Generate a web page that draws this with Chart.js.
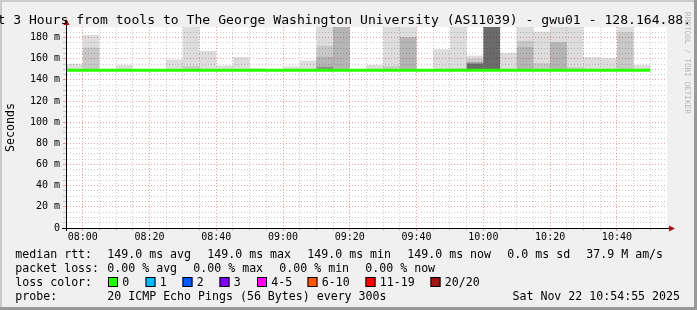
<!DOCTYPE html>
<html><head><meta charset="utf-8">
<script src="https://cdn.jsdelivr.net/npm/chart.js@4.4.1/dist/chart.umd.min.js"></script>
<style>html,body{margin:0;padding:0;background:#f0f0f0;overflow:hidden}#wrap{width:697px;height:310px;position:relative}canvas{display:block}</style>
</head><body><div id="wrap"><canvas id="c" width="697" height="310"></canvas></div>
<script>
// ---- data (5-minute bins starting 07:55) ----
const BIN_MIN = 5;
const timeLabels = ['08:00','08:20','08:40','09:00','09:20','09:40','10:00','10:20','10:40'];
const yLabels = ['0','20 m','40 m','60 m','80 m','100 m','120 m','140 m','160 m','180 m'];
const medianRtt = [149,149,149,149,149,149,149,149,149,149,149,149,149,149,149,149,149,149,149,149,149,149,149,149,149,149,149,149,149,149,149,149,149,149,149];
// smoke layers: top value (ms) of each shade, outermost (lightest) to innermost (darkest)
const smokeOuter   = [155.2,182.5,null,154.2,null,null,159.2,190,167.4,153.6,161.5,151.1,null,152.6,158.3,190,190,null,154.2,190,190,null,169,190,163,190,165.6,190,185.7,190,190,161.5,160.5,190,154.2];
const smokeMid     = [null,170.6,null,null,null,null,null,153,null,null,null,null,null,null,null,172.4,null,null,null,153,null,null,null,151,160,null,null,176.9,155.8,null,152,null,null,185.1,null];
const smokeDark    = [null,null,null,null,null,null,null,null,null,null,null,null,null,null,null,162,190,null,null,null,180.4,null,null,null,null,null,null,171.2,null,175.7,null,null,null,null,null];
const smokeDarker  = [null,null,null,null,null,null,null,null,null,null,null,null,null,null,null,152.6,null,null,null,null,null,null,null,null,156.6,null,null,null,null,null,null,null,null,null,null];
const smokeDarkest = [null,null,null,null,null,null,null,null,null,null,null,null,null,null,null,null,null,null,null,null,null,null,null,null,155,190,null,null,null,null,null,null,null,null,null];
const lossLabels = ['0','1','2','3','4-5','6-10','11-19','20/20'];
const lossColors = ['#26ff00','#00b8ff','#0059ff','#7e00ff','#ff00ff','#ff5500','#ff0000','#a01414'];
const rttStats  = ['149.0 ms avg','149.0 ms max','149.0 ms min','149.0 ms now','0.0 ms sd','37.9 M am/s'];
const lossStats = ['0.00 % avg','0.00 % max','0.00 % min','0.00 % now'];
const titleText = 't 3 Hours from tools to The George Washington University (AS11039) - gwu01 - 128.164.88.';
const probeText = '20 ICMP Echo Pings (56 Bytes) every 300s';
const stampText = 'Sat Nov 22 10:54:55 2025';

// ---- build datasets ----
const layers = [smokeOuter, smokeMid, smokeDark, smokeDarker, smokeDarkest];
const shade = ['rgba(0,0,0,0.135)','rgba(0,0,0,0.215)','rgba(0,0,0,0.29)','rgba(0,0,0,0.45)','rgba(0,0,0,0.58)'];
function layerData(k){
  const out=[];
  for(let i=0;i<medianRtt.length;i++){
    const top=layers[k][i]; if(top==null) continue;
    let lo=medianRtt[i];
    for(let j=k+1;j<layers.length;j++){ if(layers[j][i]!=null) lo=Math.max(lo,layers[j][i]); }
    if(top>lo) out.push({x:i*BIN_MIN+BIN_MIN/2, y:[lo,top]});
  }
  return out;
}
const datasets = layers.map((l,k)=>({type:'bar', data:layerData(k), backgroundColor:shade[k], borderWidth:0,
  barPercentage:1, categoryPercentage:1, grouped:false, inflateAmount:0, order:2}));
const medPts = medianRtt.map((v,i)=>({x:i*BIN_MIN,y:v}));
medPts.push({x:medianRtt.length*BIN_MIN, y:medianRtt[medianRtt.length-1]});
datasets.push({type:'line', data:medPts, borderColor:'#26ff00', borderWidth:3, pointRadius:0, stepped:'after', fill:false, order:0});

const MONO = '"DejaVu Sans Mono", monospace';
const RED = 'rgba(225,70,70,0.5)', GRAY = 'rgba(120,120,120,0.38)';

const chrome = {
  id:'chrome',
  beforeDraw(chart){
    const c=chart.ctx, a=chart.chartArea, W=chart.width, H=chart.height;
    c.save();
    c.fillStyle='#f0f0f0'; c.fillRect(0,0,W,H);
    c.fillStyle='#cbcbcb'; c.fillRect(0,0,W,2); c.fillRect(0,0,2,H);
    c.fillStyle='#999999'; c.fillRect(W-3,0,3,H); c.fillRect(0,H-3,W,3);
    c.fillStyle='#ffffff'; c.fillRect(a.left,a.top,a.right-a.left,a.bottom-a.top);
    c.restore();
  },
  afterDraw(chart){
    const c=chart.ctx, a=chart.chartArea;
    c.save();
    // axis extensions + arrows
    c.strokeStyle='#000'; c.lineWidth=1;
    c.beginPath(); c.moveTo(66.5,a.bottom+3); c.lineTo(66.5,22); c.stroke();
    c.beginPath(); c.moveTo(62,228.5); c.lineTo(671,228.5); c.stroke();
    c.fillStyle='#a31515';
    c.beginPath(); c.moveTo(66.5,19); c.lineTo(63.5,25); c.lineTo(69.5,25); c.closePath(); c.fill();
    c.beginPath(); c.moveTo(675,228.5); c.lineTo(669,225.5); c.lineTo(669,231.5); c.closePath(); c.fill();
    // title
    c.fillStyle='#000'; c.font='13.1px '+MONO; c.textBaseline='alphabetic'; c.textAlign='left';
    c.fillText(titleText,-2.6,23.5);
    // watermark
    c.save(); c.translate(687,12); c.rotate(Math.PI/2); c.fillStyle='#b4b4b4'; c.font='7.7px '+MONO; c.textBaseline='middle';
    c.fillText('RRDTOOL / TOBI OETIKER',0,0); c.restore();
    // y title
    c.save(); c.translate(10.5,127.5); c.rotate(-Math.PI/2); c.fillStyle='#000'; c.font='11.6px '+MONO; c.textAlign='center'; c.textBaseline='middle';
    c.fillText('Seconds',0,0); c.restore();
    // legend
    c.font='11.6px '+MONO; c.fillStyle='#000'; c.textBaseline='alphabetic'; c.textAlign='left';
    const r1=257.5,r2=271.5,r3=285.5,r4=299.5;
    c.fillText('median rtt:',15.3,r1);
    const x1=[107.3,207.3,307.3,407.3,507.3,586.3];
    rttStats.forEach((s,i)=>c.fillText(s,x1[i],r1));
    c.fillText('packet loss:',15.3,r2);
    const x2=[107.3,193.3,279.3,365.3];
    lossStats.forEach((s,i)=>c.fillText(s,x2[i],r2));
    c.fillText('loss color:',15.3,r3);
    const bx=[108,145.5,182.5,219.5,257,307.5,365.5,430.5];
    lossLabels.forEach((s,i)=>{
      c.fillStyle=lossColors[i]; c.fillRect(bx[i],277,10,10);
      c.strokeStyle='#000'; c.lineWidth=1; c.strokeRect(bx[i]+0.5,277.5,9,9);
      c.fillStyle='#000'; c.fillText(s,bx[i]+14.3,r3);
    });
    c.fillText('probe:',15.3,r4);
    c.fillText(probeText,107.3,r4);
    c.textAlign='right'; c.fillText(stampText,680,r4);
    c.restore();
  }
};

new Chart(document.getElementById('c'), {
  type:'bar',
  data:{datasets},
  options:{
    responsive:false, animation:false, events:[],
    layout:{padding:{left:26,right:30,top:27,bottom:62}},
    plugins:{legend:{display:false},tooltip:{enabled:false},title:{display:false}},
    scales:{
      x:{type:'linear', min:0, max:180, offset:false,
        afterBuildTicks:s=>{ const t=[]; for(let v=BIN_MIN; v<180; v+=BIN_MIN) t.push({value:v}); s.ticks=t; },
        afterFit:s=>{ s.height=20; },
        ticks:{autoSkip:false, maxRotation:0, minRotation:0, padding:0, color:'#000', font:{family:'DejaVu Sans Mono',size:10},
          callback:v=>((v-5)%20===0 ? timeLabels[(v-5)/20] : '')},
        grid:{offset:false, drawTicks:true, tickLength:3, lineWidth:1,
          color:ctx=>((ctx.tick && (ctx.tick.value-5)%20===0) ? RED : GRAY),
          tickColor:ctx=>((ctx.tick && (ctx.tick.value-5)%20===0) ? RED : GRAY)},
        border:{display:true, color:'#000', width:1, dash:[1,2]}
      },
      y:{type:'linear', min:0, max:190,
        afterBuildTicks:s=>{ const t=[]; for(let v=0; v<190; v+=5) t.push({value:v}); s.ticks=t; },
        afterFit:s=>{ s.width=40; },
        ticks:{autoSkip:false, padding:3, color:'#000', font:{family:'DejaVu Sans Mono',size:10},
          callback:v=>(v%20===0 ? yLabels[v/20] : '')},
        grid:{drawTicks:true, tickLength:3, lineWidth:1,
          color:ctx=>((ctx.tick && ctx.tick.value%20===0) ? RED : GRAY),
          tickColor:ctx=>((ctx.tick && ctx.tick.value%20===0) ? RED : GRAY)},
        border:{display:true, color:'#000', width:1, dash:[1,2]}
      }
    }
  },
  plugins:[chrome]
});
</script>
</body></html>
